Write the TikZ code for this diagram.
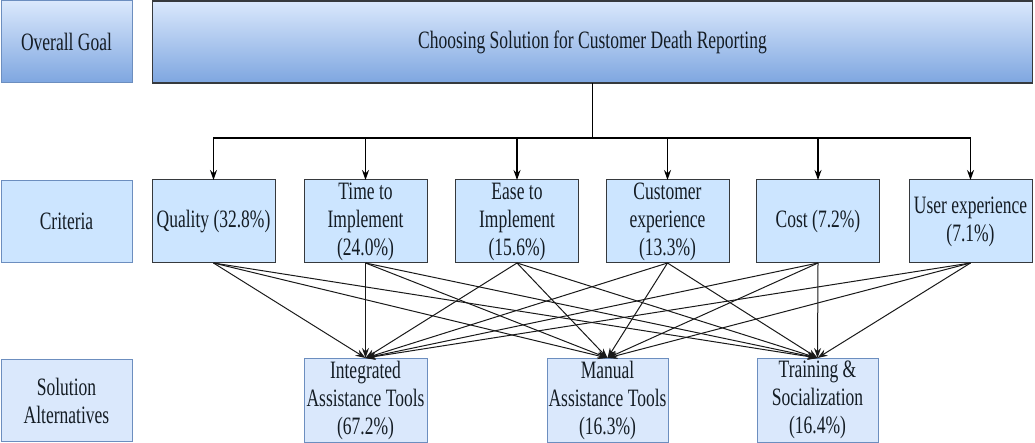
\documentclass[tikz,border=0pt]{standalone}
\usepackage{fontspec}
\setmainfont{Liberation Serif}[FakeStretch=0.7]
\usetikzlibrary{arrows.meta,calc}
\definecolor{txt}{RGB}{20,28,36}
\definecolor{gtop}{HTML}{DAE8FC}
\definecolor{gbot}{HTML}{7EA6E0}
\definecolor{bluebd}{HTML}{6C8EBF}
\definecolor{critfill}{HTML}{CCE5FF}
\definecolor{altfill}{HTML}{DAE8FC}
\definecolor{darkbd}{HTML}{36393D}
\begin{document}
\begin{tikzpicture}[x=1pt,y=-1pt,
  every node/.style={inner sep=0pt,outer sep=0pt,align=center,text=txt,
    font=\fontsize{25}{28}\selectfont},
  labelbox/.style={draw=bluebd,line width=1pt,minimum width=131pt,minimum height=82pt},
  goalbox/.style={draw=darkbd,line width=1.3pt,top color=gtop,bottom color=gbot},
  critbox/.style={draw=darkbd,line width=1pt,fill=critfill,minimum width=123pt,minimum height=83pt},
  altbox/.style={draw=bluebd,line width=1pt,fill=altfill,minimum height=84pt},
  arr/.style={draw=black,line width=1.1pt,-{Stealth[length=10pt,width=7pt]}},
  link/.style={draw=black!90,line width=1pt,-{Stealth[length=10pt,width=7pt]}}]
\useasboundingbox (0,0) rectangle (1035,443);

% left labels
\node[labelbox,top color=gtop,bottom color=gbot] (lgoal) at (66.5,42) {Overall Goal};
\node[labelbox,fill=critfill] (lcrit) at (66.5,221.5) {Criteria};
\node[labelbox,fill=altfill] (lalt) at (66.5,400.5) {Solution\\Alternatives};

% goal
\node[goalbox,minimum width=880pt,minimum height=82pt] (goal) at (592.5,42)
  {Choosing Solution for Customer Death Reporting};

% criteria
\node[critbox] (c1) at (213.5,221.5) {Quality (32.8\%)};
\node[critbox] (c2) at (365.5,221.5) {Time to\\Implement\\(24.0\%)};
\node[critbox] (c3) at (517,221.5) {Ease to\\Implement\\(15.6\%)};
\node[critbox] (c4) at (667.5,221.5) {Customer\\experience\\(13.3\%)};
\node[critbox] (c5) at (818,221.5) {Cost (7.2\%)};
\node[critbox] (c6) at (970.5,221.5) {User experience\\(7.1\%)};

% alternatives
\node[altbox,minimum width=123pt] (a1) at (365.5,400) {Integrated\\Assistance Tools\\(67.2\%)};
\node[altbox,minimum width=121pt] (a2) at (607.5,400) {Manual\\Assistance Tools\\(16.3\%)};
\node[altbox,minimum width=121pt] (a3) at (817.5,400) {Training \&\\Socialization\\(16.4\%)};

% goal to criteria
\coordinate (bar) at (592.5,138);
\draw[line width=1.1pt] (goal.south) -- (bar);
\foreach \c in {c1,c2,c3,c4,c5,c6}{
  \draw[arr] (bar) -| (\c.north);
}

% criteria to alternatives
\foreach \c in {c1,c2,c3,c4,c5,c6}{
  \foreach \a in {a1,a2,a3}{
    \draw[link] (\c.south) -- (\a.north);
  }
}
\end{tikzpicture}
\end{document}
